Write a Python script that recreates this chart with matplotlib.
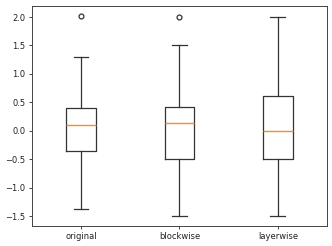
import matplotlib
matplotlib.use("Agg")
import matplotlib.pyplot as plt

labels = ["original", "blockwise", "layerwise"]
whislo = [-1.38, -1.50, -1.50]
q1 = [-0.35, -0.50, -0.50]
med = [0.10, 0.13, 0.00]
q3 = [0.40, 0.41, 0.62]
whishi = [1.30, 1.50, 2.00]
fliers = [[2.02], [2.00], []]

stats = []
for i in range(len(labels)):
    stats.append(dict(label=labels[i], whislo=whislo[i], q1=q1[i], med=med[i],
                      q3=q3[i], whishi=whishi[i], fliers=fliers[i]))

plt.rcParams['font.size'] = 6
plt.rcParams['text.color'] = '#222222'
plt.rcParams['xtick.labelcolor'] = '#222222'
plt.rcParams['ytick.labelcolor'] = '#222222'
lc = '#333333'
fig = plt.figure(figsize=(3.32, 2.46), dpi=100)
ax = fig.add_axes([0.096, 0.081, 0.889, 0.895])
ax.bxp(stats, flierprops=dict(markersize=3.5, markeredgewidth=0.9, markeredgecolor=lc),
       boxprops=dict(linewidth=0.9, color=lc), whiskerprops=dict(linewidth=0.9, color=lc),
       capprops=dict(linewidth=0.9, color=lc), medianprops=dict(linewidth=1.0, color='#ff8c1a'))
for s in ax.spines.values():
    s.set_linewidth(0.7)
    s.set_color('#444444')
ax.tick_params(width=0.7, length=2.5, pad=2, color='#444444')
fig.savefig("out.png", dpi=100)
